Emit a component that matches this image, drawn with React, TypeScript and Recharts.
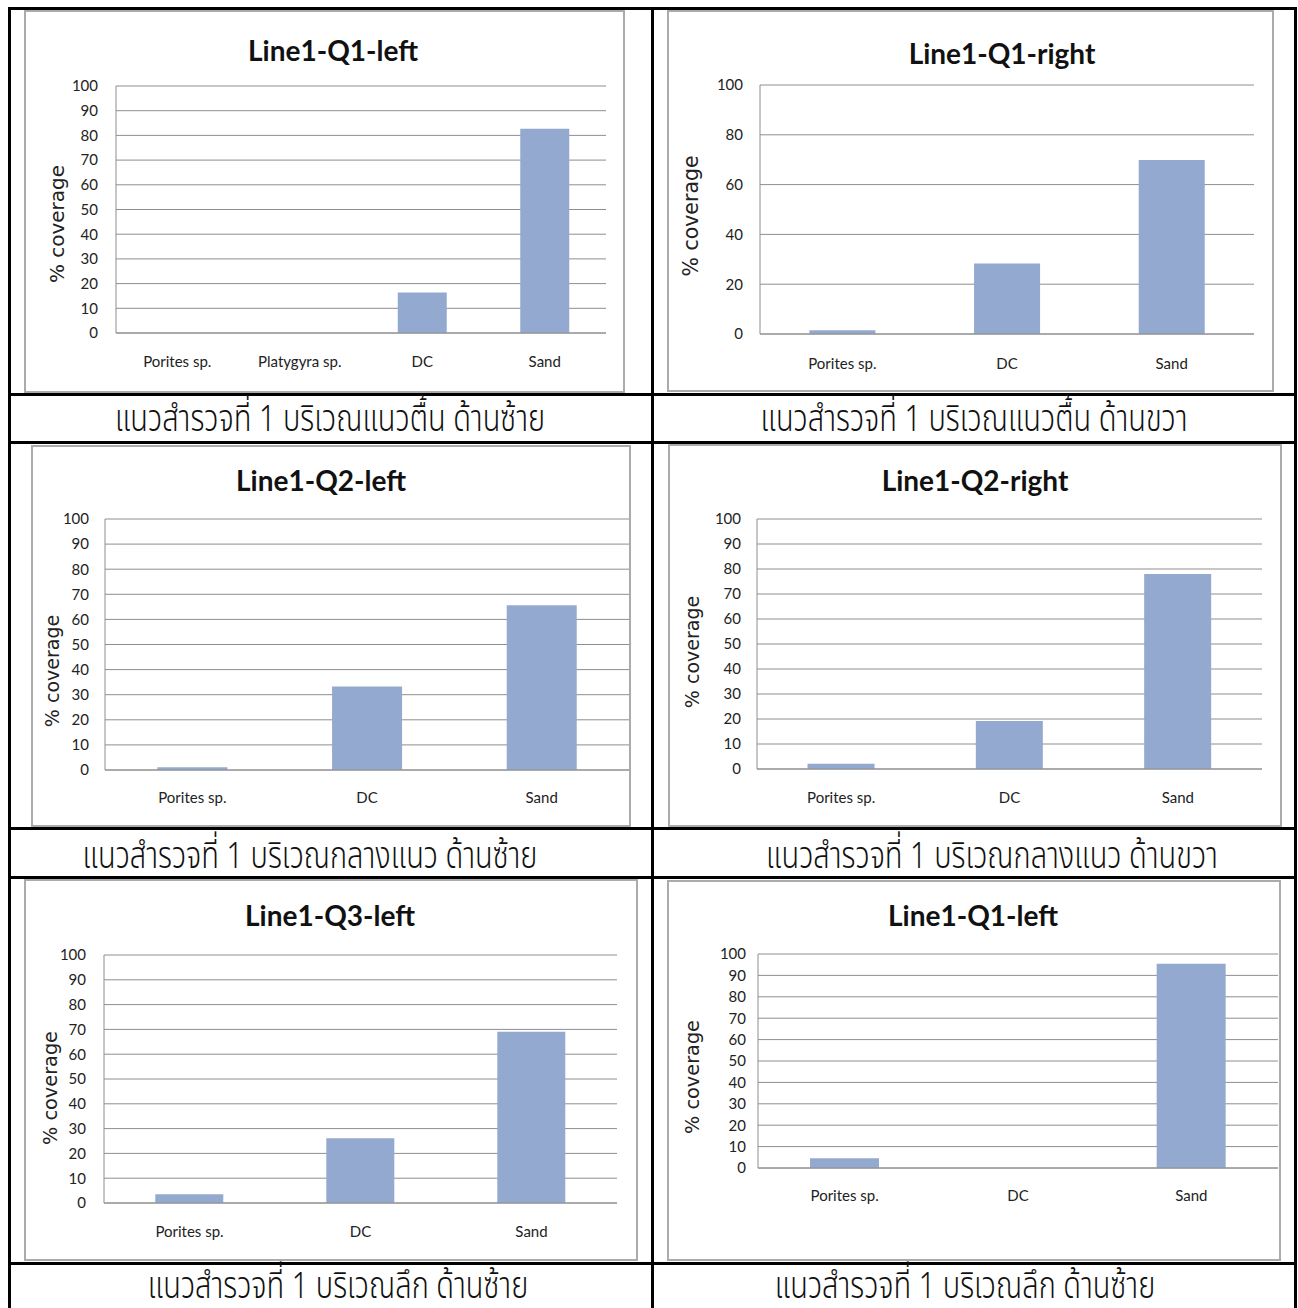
import { BarChart, Bar, XAxis, YAxis, CartesianGrid } from 'recharts'

// survey categories
const categoriesFour = ['Porites sp.', 'Platygyra sp.', 'DC', 'Sand']
const categoriesThree = ['Porites sp.', 'DC', 'Sand']

// % coverage per transect quadrat
const coverageQ1Left = [0, 0, 16.4, 82.7]
const coverageQ1Right = [1.5, 28.3, 69.9]
const coverageQ2Left = [1.1, 33.3, 65.6]
const coverageQ2Right = [2.1, 19.2, 78.0]
const coverageQ3Left = [3.5, 26.1, 69.1]
const coverageDeepLeft = [4.5, 0, 95.5]

const ticksBy10 = [0, 10, 20, 30, 40, 50, 60, 70, 80, 90, 100]
const ticksBy20 = [0, 20, 40, 60, 80, 100]

const titles = ['Line1-Q1-left', 'Line1-Q1-right', 'Line1-Q2-left', 'Line1-Q2-right', 'Line1-Q3-left', 'Line1-Q1-left']
const captions = [
  'แนวสำรวจที่ 1 บริเวณแนวตื้น ด้านซ้าย',
  'แนวสำรวจที่ 1 บริเวณแนวตื้น ด้านขวา',
  'แนวสำรวจที่ 1 บริเวณกลางแนว ด้านซ้าย',
  'แนวสำรวจที่ 1 บริเวณกลางแนว ด้านขวา',
  'แนวสำรวจที่ 1 บริเวณลึก ด้านซ้าย',
  'แนวสำรวจที่ 1 บริเวณลึก ด้านซ้าย',
]

const BAR = '#94a9cf'
const GRID = '#8e8e8e'
const TEXT = '#222222'

type Panel = {
  title: string
  caption: string
  categories: string[]
  values: number[]
  ticks: number[]
  box: number[] // x, y, w, h
  plot: number[] // left, top, right, bottom
  titleAt: number[]
  labelAt: number[] // cx, cy, font size
  captionAt: number[]
  yGap: number
  xGap: number
}

const panels: Panel[] = [
  {
    title: titles[0], caption: captions[0], categories: categoriesFour, values: coverageQ1Left, ticks: ticksBy10,
    box: [24, 10, 601, 383], plot: [116, 86, 606, 333], titleAt: [333, 50], labelAt: [57, 224, 20],
    captionAt: [330, 420], yGap: 18, xGap: 23,
  },
  {
    title: titles[1], caption: captions[1], categories: categoriesThree, values: coverageQ1Right, ticks: ticksBy20,
    box: [667, 10, 607, 382], plot: [760, 85, 1254, 334], titleAt: [1002, 53], labelAt: [691, 216, 20.5],
    captionAt: [974, 420], yGap: 17, xGap: 24,
  },
  {
    title: titles[2], caption: captions[2], categories: categoriesThree, values: coverageQ2Left, ticks: ticksBy10,
    box: [31, 445, 600, 382], plot: [105, 519, 629, 770], titleAt: [321, 480], labelAt: [52, 671, 19],
    captionAt: [310, 857], yGap: 16, xGap: 22,
  },
  {
    title: titles[3], caption: captions[3], categories: categoriesThree, values: coverageQ2Right, ticks: ticksBy10,
    box: [668, 444, 614, 383], plot: [757, 519, 1262, 769], titleAt: [975, 480], labelAt: [692, 652, 19],
    captionAt: [992, 857], yGap: 16, xGap: 23,
  },
  {
    title: titles[4], caption: captions[4], categories: categoriesThree, values: coverageQ3Left, ticks: ticksBy10,
    box: [24, 879, 614, 382], plot: [104, 955, 617, 1203], titleAt: [330, 915], labelAt: [51, 1088, 19.3],
    captionAt: [338, 1287], yGap: 18, xGap: 23,
  },
  {
    title: titles[5], caption: captions[5], categories: categoriesThree, values: coverageDeepLeft, ticks: ticksBy10,
    box: [667, 880, 614, 381], plot: [758, 954, 1278, 1168], titleAt: [973, 915], labelAt: [693, 1077, 19.3],
    captionAt: [965, 1287], yGap: 12, xGap: 22,
  },
]

const Y_AXIS_W = 40
const X_AXIS_H = 30

function CoverageChart({ p }: { p: Panel }) {
  const [bx, by, bw, bh] = p.box
  const [pl, pt, pr, pb] = p.plot
  const margin = {
    top: pt - by,
    right: bx + bw - pr,
    bottom: by + bh - pb - X_AXIS_H,
    left: pl - bx - Y_AXIS_W,
  }
  const data = p.categories.map((name, i) => ({ name, value: p.values[i] }))
  const tickStyle = { fill: TEXT, fontSize: 15, fontFamily: 'Lato, sans-serif' }

  return (
    <>
      <div
        style={{
          position: 'absolute', left: bx, top: by, width: bw, height: bh,
          border: '2px solid #ababab', boxSizing: 'border-box', background: '#fff',
        }}
      />
      <div style={{ position: 'absolute', left: bx, top: by }}>
        <BarChart width={bw} height={bh} data={data} margin={margin} barCategoryGap="30%">
          <CartesianGrid vertical={false} stroke={GRID} />
          <XAxis
            dataKey="name"
            interval={0}
            height={X_AXIS_H}
            tickLine={false}
            tickSize={0}
            tickMargin={p.xGap}
            axisLine={{ stroke: GRID }}
            tick={tickStyle}
          />
          <YAxis
            type="number"
            domain={[0, 100]}
            ticks={p.ticks}
            interval={0}
            width={Y_AXIS_W}
            tickLine={false}
            tickSize={0}
            tickMargin={p.yGap}
            axisLine={{ stroke: GRID }}
            tick={tickStyle}
          />
          <Bar dataKey="value" fill={BAR} isAnimationActive={false} />
        </BarChart>
      </div>
      <div
        style={{
          position: 'absolute', left: p.titleAt[0], top: p.titleAt[1],
          transform: 'translate(-50%, -50%)', whiteSpace: 'nowrap',
          fontFamily: 'Lato, sans-serif', fontWeight: 700, fontSize: 28, lineHeight: 1, color: '#111',
        }}
      >
        {p.title}
      </div>
      <div
        style={{
          position: 'absolute', left: p.labelAt[0], top: p.labelAt[1],
          transform: 'translate(-50%, -50%) rotate(-90deg)', whiteSpace: 'nowrap',
          fontFamily: '"DejaVu Sans", sans-serif', fontSize: p.labelAt[2], lineHeight: 1, color: TEXT,
        }}
      >
        % coverage
      </div>
      <div
        style={{
          position: 'absolute', left: p.captionAt[0], top: p.captionAt[1],
          transform: 'translate(-50%, -50%) scaleY(1.28)', whiteSpace: 'nowrap',
          fontFamily: '"Noto Sans Thai", "Noto Serif Thai", Garuda, Loma, "Noto Sans", sans-serif',
          fontSize: 29, fontWeight: 350, lineHeight: 0.8, color: '#111',
        }}
      >
        {p.caption}
      </div>
    </>
  )
}

// table rules
const hLines = [7, 393, 441, 827, 876, 1262]
const vLines = [8, 651, 1294]

export default function App() {
  return (
    <div
      style={{
        position: 'absolute', left: 0, top: 0, width: 1298, height: 1308,
        overflow: 'hidden', background: '#fff',
      }}
    >
      {hLines.map((y) => (
        <div key={'h' + y} style={{ position: 'absolute', left: 8, top: y, width: 1289, height: 3, background: '#000' }} />
      ))}
      {vLines.map((x) => (
        <div key={'v' + x} style={{ position: 'absolute', left: x, top: 7, width: 3, height: 1301, background: '#000' }} />
      ))}
      {panels.map((p, i) => (
        <CoverageChart key={i} p={p} />
      ))}
    </div>
  )
}
